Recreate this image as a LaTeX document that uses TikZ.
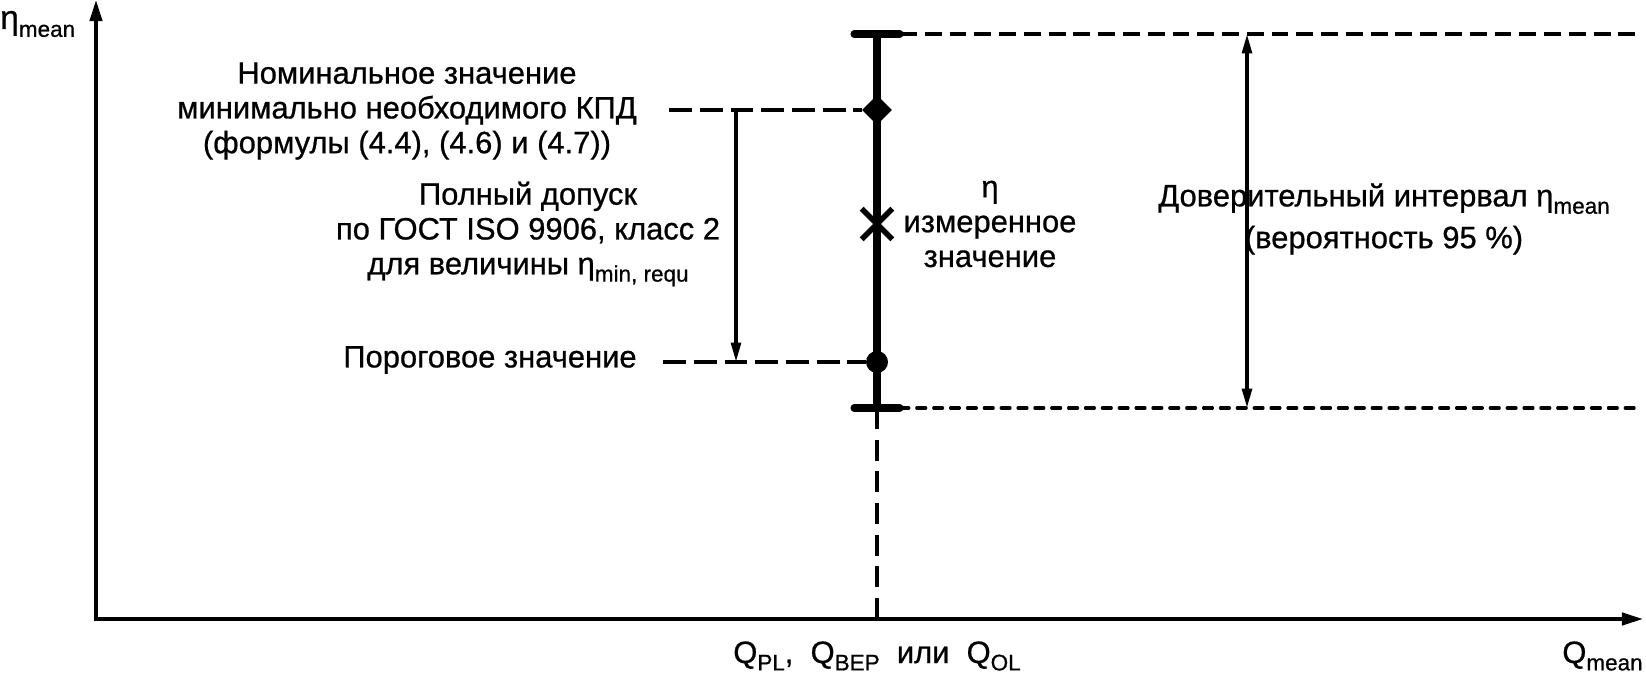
\documentclass[tikz,border=0pt]{standalone}
\usepackage{fontspec}
\setmainfont{Liberation Sans}[FakeBold=0.7]
\usepackage{tikz}
\usetikzlibrary{arrows.meta,shapes,calc}

\newcommand{\lowsub}[1]{\raisebox{-0.45ex}{\fontsize{12.8}{13}\selectfont #1}}

\begin{document}
\begin{tikzpicture}[
    x=0.02cm, y=-0.02cm,
    txt/.style={align=center, inner sep=0pt, font=\fontsize{17.6}{19.8}\selectfont},
    axisline/.style={{Triangle[length=12pt,width=7pt]}-{Triangle[length=12pt,width=7pt]}, line width=2pt},
    dimarrow/.style={-{Triangle[length=11pt,width=5.5pt]}, line width=2pt},
    dimboth/.style={{Triangle[length=11pt,width=5.5pt]}-{Triangle[length=11pt,width=5.5pt]}, line width=2pt},
    rangeline/.style={line width=4pt},
    tbar/.style={line width=4pt, line cap=round},
    dashtop/.style={line width=1.8pt, dash pattern=on 9.6pt off 4.5pt},
    dashbot/.style={line width=1.9pt, line cap=round, dash pattern=on 5pt off 4.6pt},
    dashleft/.style={line width=1.8pt, dash pattern=on 13pt off 4.5pt},
    dashvert/.style={line width=1.8pt, dash pattern=on 12pt off 6pt}
]
\useasboundingbox (0,0) rectangle (1646,675);

% Points on the axes
\coordinate (O) at (96,619);
\coordinate (ytip) at (96,0);
\coordinate (xtip) at (1643,619);
\coordinate (foot) at (877,619);

% Points on the range line
\coordinate (top) at (877,34);
\coordinate (bot) at (877,408);
\coordinate (topR) at (1640,34);
\coordinate (botR) at (1640,408);
\coordinate (nomL) at (669,110);
\coordinate (thrL) at (663,362);
\coordinate (tolA) at (736,110);
\coordinate (tolB) at (736,362);
\coordinate (ciA) at (1247,34);
\coordinate (ciB) at (1247,408);

% Axes
\draw[axisline] (ytip) -- (O) -- (xtip);

% Range line with end bars
\draw[rangeline] (top) -- (bot);
\draw[tbar] ($(top)+(-23,0)$) -- ($(top)+(23,0)$);
\draw[tbar] ($(bot)+(-23,0)$) -- ($(bot)+(23,0)$);

% Dashed limits of the interval
\draw[dashtop] ($(top)+(23,0)$) -- (topR);
\draw[dashbot] ($(bot)+(23,0)$) -- (botR);
\draw[dashvert] (bot) -- (foot);

% Markers
\node[diamond, fill, inner sep=0pt, minimum size=0.6cm] (nom) at (877,110) {};
\node[circle, fill, inner sep=0pt, minimum size=0.44cm] (thr) at (877,362) {};
\node[cross out, draw, line width=3.2pt, inner sep=0pt, minimum size=0.5cm] (meas) at (877,224) {};

% Dashed leaders
\draw[dashleft] (nomL) -- (nom);
\draw[dashleft] (thrL) -- (thr);

% Tolerance and confidence arrows
\draw[dimarrow] (tolA) -- (tolB);
\draw[dimboth] (ciA) -- (ciB);

% Labels
\node[txt] (nomtxt) at (407,111) {Номинальное значение\\минимально необходимого КПД\\(формулы (4.4), (4.6) и (4.7))};
\node[txt] (toltxt) at (528,234) {Полный допуск\\по ГОСТ ISO 9906, класс 2\\для величины η\lowsub{min, requ}};
\node[txt] (thrtxt) at (490,360) {Пороговое значение};
\node[txt] (meastxt) at (990,224) {η\\измеренное\\значение};
\node[txt] (citxt) at (1384,219) {Доверительный интервал η\lowsub{mean}\\[4pt](вероятность 95 \%)};

% Axis labels
\node[txt, anchor=west, font=\fontsize{19}{20}\selectfont] (ylab) at (0,24) {η\lowsub{mean}};
\node[txt, anchor=east] (xlab) at (1643,656) {Q\lowsub{mean}};
\node[txt] (qlab) at (877,656) {Q\lowsub{PL}, \ Q\lowsub{BEP} \ или \ Q\lowsub{OL}};

\end{tikzpicture}
\end{document}
